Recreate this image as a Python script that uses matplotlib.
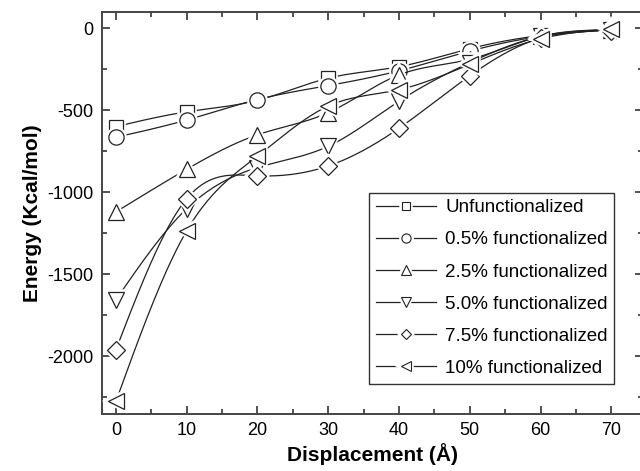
import numpy as np
import matplotlib
matplotlib.use("Agg")
import matplotlib.pyplot as plt
from matplotlib.lines import Line2D
from matplotlib.legend_handler import HandlerTuple
from matplotlib.ticker import MultipleLocator

plt.rcParams['font.family'] = ['Liberation Sans', 'DejaVu Sans']
plt.rcParams['axes.unicode_minus'] = False

# Data
displacement = [0, 10, 20, 30, 40, 50, 60, 70]
unfunc = [-600, -510, -440, -305, -235, -125, -45, -10]
f05 = [-665, -560, -435, -350, -260, -140, -50, -10]
f25 = [-1120, -860, -650, -515, -285, -190, -50, -10]
f50 = [-1655, -1100, -850, -720, -445, -210, -50, -10]
f75 = [-1960, -1040, -900, -840, -610, -290, -60, -15]
f10 = [-2275, -1235, -780, -475, -375, -220, -65, -5]

labels = ['Unfunctionalized', '0.5% functionalized', '2.5% functionalized',
          '5.0% functionalized', '7.5% functionalized', '10% functionalized']
series = [unfunc, f05, f25, f50, f75, f10]
markers = ['s', 'o', '^', 'v', 'D', '<']
sizes = [9.5, 11, 12, 12, 9, 12]


def natural_spline(x, y, n=300):
    # natural cubic spline through the points, used only to draw the curve
    x = np.asarray(x, float)
    y = np.asarray(y, float)
    k = len(x)
    h = np.diff(x)
    A = np.zeros((k, k))
    b = np.zeros(k)
    A[0, 0] = A[-1, -1] = 1
    for i in range(1, k - 1):
        A[i, i - 1] = h[i - 1]
        A[i, i] = 2 * (h[i - 1] + h[i])
        A[i, i + 1] = h[i]
        b[i] = 6 * ((y[i + 1] - y[i]) / h[i] - (y[i] - y[i - 1]) / h[i - 1])
    M = np.linalg.solve(A, b)
    xs = np.linspace(x[0], x[-1], n)
    idx = np.clip(np.searchsorted(x, xs) - 1, 0, k - 2)
    x0, x1 = x[idx], x[idx + 1]
    hh = x1 - x0
    t0, t1 = x1 - xs, xs - x0
    ys = (M[idx] * t0 ** 3 + M[idx + 1] * t1 ** 3) / (6 * hh) \
        + (y[idx] / hh - M[idx] * hh / 6) * t0 + (y[idx + 1] / hh - M[idx + 1] * hh / 6) * t1
    return xs, ys


fig = plt.figure(figsize=(6.4, 4.71), dpi=100)
ax = fig.add_axes([0.159, 0.1216, 0.846, 0.8535])

handles = []
for i, (vals, m, ms, lab) in enumerate(zip(series, markers, sizes, labels)):
    z = 2 + i * 3
    xs, ys = natural_spline(displacement, vals)
    ax.plot(xs, ys, color='#222222', lw=0.9, zorder=z)
    ax.plot(displacement, vals, ls='none', marker=m, ms=ms, mfc='white', mec='white',
            mew=4, zorder=z + 1)
    ax.plot(displacement, vals, ls='none', marker=m, ms=ms, mfc='white', mec='#222222',
            mew=0.9, zorder=z + 2)
    h1 = Line2D([], [], color='#222222', lw=0.9, marker=m, ms=ms * 0.6, mfc='white',
                mec='white', mew=4)
    h2 = Line2D([], [], ls='none', marker=m, ms=ms * 0.6, mfc='white', mec='#222222', mew=0.8)
    handles.append((h1, h2))

ax.set_xlim(-2, 74.5)
ax.set_ylim(-2350, 100)
ax.xaxis.set_major_locator(MultipleLocator(10))
ax.xaxis.set_minor_locator(MultipleLocator(5))
ax.yaxis.set_major_locator(MultipleLocator(500))
ax.yaxis.set_minor_locator(MultipleLocator(250))
ax.tick_params(which='both', direction='in', top=True, right=True, color='#333333',
               width=1.2, labelsize=13, pad=6)
ax.tick_params(which='major', length=6)
ax.tick_params(which='minor', length=3.5)
for s in ax.spines.values():
    s.set_color('#444444')
    s.set_linewidth(1.4)

ax.set_xlabel('Displacement (Å)', fontsize=15, fontweight='bold', labelpad=3)
ax.set_ylabel('Energy (Kcal/mol)', fontsize=15, fontweight='bold', labelpad=4)

leg = ax.legend(handles, labels, handler_map={tuple: HandlerTuple(ndivide=1, pad=0)},
                loc='upper left', bbox_to_anchor=(0.494, 0.55), fontsize=13.5,
                frameon=True, fancybox=False, edgecolor='#333333', framealpha=1,
                handlelength=3.2, handletextpad=0.5, labelspacing=0.8,
                borderpad=0.35, borderaxespad=0)
leg.get_frame().set_linewidth(1.0)
leg.set_zorder(30)

fig.savefig('out.png', dpi=100)
